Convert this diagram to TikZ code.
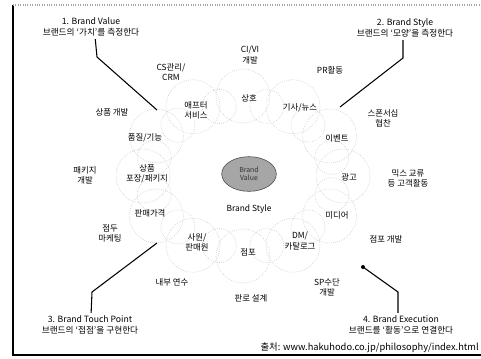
\documentclass[tikz,border=0pt]{standalone}
\usepackage{fontspec}
\setmainfont{Noto Sans CJK KR}
\usetikzlibrary{arrows,calc,positioning,shapes.geometric}
\tikzset{
	>=stealth',
	item/.style={
		align=center,
		inner sep=0pt,
		font=\fontsize{6.3}{7.6}\selectfont},
	head/.style={
		align=center,
		inner sep=0pt,
		font=\fontsize{6.5}{8}\selectfont},
	pil/.style={
		line width=0.8pt,
		shorten <=2pt},
	bubble/.style={
		draw=gray!40,
		densely dotted,
		line width=0.5pt},
	core/.style={
		ellipse,
		draw=black!75,
		fill=gray!70,
		minimum width=41pt,
		minimum height=26pt,
		inner sep=0pt,
		align=center,
		text=black!80,
		font=\fontsize{5.2}{5.8}\selectfont}
}

\begin{document}
\begin{tikzpicture}[x=0.75pt,y=0.75pt,yscale=-1,xscale=1]
\useasboundingbox (0,0) rectangle (481,358);
% frame
\draw [line width=1.2pt] (13,5) -- (13,355) -- (481,355);
\draw [gray!70, densely dotted, line width=0.8pt] (13,5) -- (481,5);

% bubble ring
\foreach \a in {0,30,...,330}
	\draw [bubble] ({243+100*cos(\a)},{176+80*sin(\a)}) circle (27);
\foreach \a in {15,45,...,345}
	\draw [bubble] ({243+92*cos(\a)},{176+72*sin(\a)}) circle (17);

% center
\node [core] (core) at (249,174) {Brand\\Value};
\node [item] (style) at (249,209) {Brand Style};

% Inner items
\node [item] (name) at (249,98) {상호};
\node [item] (news) at (300,108) {기사/뉴스};
\node [item] (event) at (337,138) {이벤트};
\node [item] (ad) at (349,177) {광고};
\node [item] (media) at (337,215) {미디어};
\node [item] (dm) at (300,241) {DM/\\카탈로그};
\node [item] (shop) at (248,252) {점포};
\node [item] (staff) at (197,242) {사원/\\판매원};
\node [item] (price) at (150,213) {판매가격};
\node [item] (pack) at (147,174) {상품\\포장/패키지};
\node [item] (func) at (145,138) {품질/기능};
\node [item] (after) at (196,110) {애프터\\서비스};

% Outer items
\node [item] (ci) at (250,55) {CI/VI\\개발};
\node [item] (cs) at (171,72) {CS관리/\\CRM};
\node [item] (pr) at (330,70) {PR활동};
\node [item] (prod) at (112,112) {상품 개발};
\node [item] (spon) at (383,118) {스폰서십\\협찬};
\node [item] (pkg) at (85,175) {패키지\\개발};
\node [item] (fan) at (408,178) {믹스 교류\\등 고객활동};
\node [item] (store) at (386,239) {점포 개발};
\node [item] (pos) at (110,233) {점두\\마케팅};
\node [item] (sp) at (327,287) {SP수단\\개발};
\node [item] (train) at (172,282) {내부 연수};
\node [item] (route) at (251,298) {판로 설계};

% Headings
\node [head] (val) at (91,27) {1. Brand Value\\브랜드의 `가치'를 측정한다};
\node [head] (sty) at (405,28) {2. Brand Style\\브랜드의 `모양'을 측정한다};
\node [head] (tp) at (90,325) {3. Brand Touch Point\\브랜드의 `접점'을 구현한다};
\node [head] (exe) at (401,325) {4. Brand Execution\\브랜드를 `활동'으로 연결한다};

\coordinate (valKnee) at (97,57);
\coordinate (valEnd) at (157,110);
\coordinate (styKnee) at (403,58);
\coordinate (styEnd) at (340,107);
\coordinate (tpKnee) at (92,292);
\coordinate (tpEnd) at (157,243);
\coordinate (exeKnee) at (398,292);
\coordinate (exeEnd) at (363,267);

\draw [pil] (val.south -| 95,0) -- (valKnee) -- (valEnd);
\draw [pil] (sty.south -| styKnee) -- (styKnee) -- (styEnd);
\draw [pil] (tp.north -| 91,0) -- (tpKnee) -- (tpEnd);
\draw [pil] (exe.north -| exeKnee) -- (exeKnee) -- (exeEnd);
\fill (exeEnd) circle (2);

% source
\node [item, anchor=east, font=\fontsize{7}{8}\selectfont] (src) at (479,348) {출처: www.hakuhodo.co.jp/philosophy/index.html};
\end{tikzpicture}
\end{document}
